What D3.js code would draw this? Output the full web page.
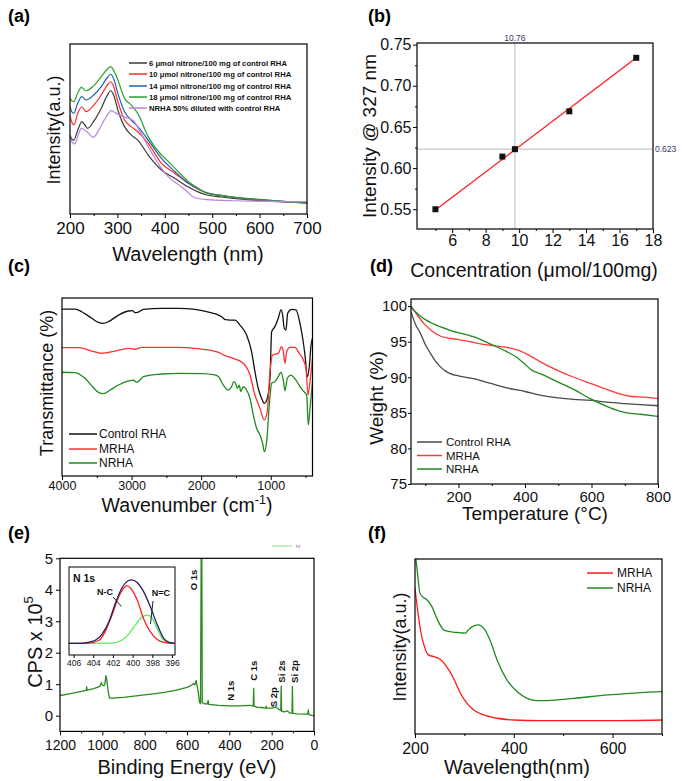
<!DOCTYPE html>
<html><head><meta charset="utf-8">
<script src="https://cdn.jsdelivr.net/npm/d3@7"></script>
<style>body{margin:0;background:#fff}svg{display:block}</style>
</head><body>
<svg id="c" width="682" height="781"></svg>
<script>
// ---------------- DATA ----------------
// (a) UV-vis spectra [wavelength nm, intensity a.u.]
const aSeriesNames = ["6 μmol nitrone/100 mg of control RHA","10 μmol nitrone/100 mg of control RHA","14 μmol nitrone/100 mg of control RHA","18 μmol nitrone/100 mg of control RHA","NRHA 50% diluted with control RHA"];
const a6 = [[200,46.5],[204,44],[208,43.5],[216,49],[225,54.3],[231,52.5],[237,50.4],[250,54.5],[266,62.2],[278,69.5],[286,72.5],[292,70],[301,61.2],[315,51.4],[329,46.5],[343,43.5],[365,34.7],[393,25.9],[421,21],[449,16],[470,13],[489,11.2],[520,10],[545,9.2],[615,7.6],[700,6.9]];
const a10 = [[200,57.3],[204,54],[208,52.4],[216,59],[225,63.1],[234,60.2],[250,64],[266,70],[278,75.5],[286,77.8],[292,75],[301,66.1],[315,55.3],[329,51.4],[343,48.4],[365,41.6],[393,29.8],[421,24],[449,18.2],[470,14.6],[489,12.3],[520,10.8],[545,9.8],[615,8],[700,6.5]];
const a14 = [[200,63.1],[204,60],[208,59.2],[216,65],[225,69],[234,67.1],[250,70],[266,74.9],[278,80],[286,82.2],[292,79.5],[301,71],[315,60.2],[329,55.3],[343,51.4],[365,43.5],[393,32.7],[421,25],[449,18.2],[470,14.9],[489,12.5],[520,11],[545,10],[615,8.2],[700,6.5]];
const a18 = [[200,68.6],[204,66.5],[208,66.1],[216,71],[224,74.5],[234,72.5],[250,75.5],[266,80.8],[278,85],[286,86.7],[292,84.5],[301,78.8],[315,68],[329,64.2],[343,59.2],[365,45.5],[393,34.7],[404,31.8],[421,27],[449,19.2],[470,15.2],[489,12.2],[520,10.8],[545,9.8],[615,8.2],[700,6.3]];
const aDil = [[200,45.5],[205,42],[210,41.2],[218,47],[224,50.4],[236,48.4],[249,45.1],[262,50],[274,56],[287,60.8],[296,59.5],[305,58.2],[315,57],[325,56.2],[334,54.9],[348,48.4],[369,37.6],[390,28],[407,22],[430,17],[446,13.5],[460,10],[489,8.4],[545,7.8],[700,7.2]];
const aXTicks = [200,300,400,500,600,700];

// (b) calibration
const bConc = [5, 9, 9.75, 13, 17];
const bIntensity = [0.550, 0.614, 0.623, 0.669, 0.734];
const bFitX = [5, 17];
const bFitY = [0.549, 0.734];
const bCross = {x: 9.75, y: 0.623, xLabel: "10.76", yLabel: "0.623"};
const bXTicks = [6,8,10,12,14,16,18];
const bYTicks = [0.55,0.60,0.65,0.70,0.75];

// (c) FTIR [wavenumber, transmittance]
const cNames = ["Control RHA","MRHA","NRHA"];
const cControl = [[4000,93.8],[3813,93.8],[3717,92.3],[3573,88.6],[3476,86.3],[3404,85.8],[3332,86.7],[3188,90.4],[3045,92.7],[2987,92.9],[2950,91.8],[2925,91.8],[2829,93.6],[2565,94.2],[2325,94.2],[2086,93.6],[1893,92],[1750,90.4],[1700,89.3],[1650,87.8],[1587,87.6],[1515,87.6],[1443,84.8],[1347,79.2],[1275,69.8],[1227,58.6],[1180,49.3],[1131,43.6],[1093,40.8],[1050,43.6],[1011,54.9],[987,81],[940,83.9],[892,88.6],[853,93.3],[829,90.4],[806,83],[781,82],[757,91.4],[699,93.6],[637,93.3],[590,87.6],[541,77.4],[508,68],[475,55.8],[446,61.4],[421,73.6],[400,77.4]];
const cMRHA = [[4000,72.1],[3760,72.1],[3573,70.2],[3428,68.9],[3236,70.2],[3045,71.7],[2950,71.2],[2853,72.3],[2325,72.3],[1989,71.3],[1750,69.5],[1680,68],[1539,66.1],[1395,63.3],[1299,56.7],[1227,45.5],[1155,38],[1093,31.5],[1050,36.1],[1011,58.6],[973,68],[892,68.9],[844,72.6],[820,69.8],[796,63.3],[772,69.8],[724,72.3],[652,72.3],[590,68.9],[532,65.2],[494,60.5],[465,45.5],[436,53],[400,66.1]];
const cNRHA = [[4000,58.3],[3813,58.1],[3669,54.9],[3549,49.6],[3476,47],[3404,46.3],[3308,48.3],[3188,51.1],[3045,53.4],[2973,53.9],[2925,52.6],[2829,55.8],[2565,57.3],[2325,57.7],[1989,57.5],[1822,56.9],[1750,55.8],[1683,51.1],[1611,48.3],[1563,50.2],[1530,53],[1505,52],[1482,49.3],[1453,51.1],[1430,47.4],[1395,50.2],[1347,48.3],[1299,43.6],[1251,34.3],[1203,26.8],[1155,23],[1117,18.4],[1093,13.7],[1059,19.3],[1021,39.9],[987,52.1],[940,53],[892,55.8],[853,58.3],[820,53.9],[796,47.8],[762,54.9],[714,56.7],[637,53.9],[580,50.2],[523,47.4],[484,45.5],[460,28.7],[436,38],[400,53]];
const cXTicks = [4000,3000,2000,1000];

// (d) TGA [temperature °C, weight %]
const dNames = ["Control RHA","MRHA","NRHA"];
const dControl = [[57,99.2],[70,97.5],[85,96.2],[100,94.6],[115,93.4],[130,92.3],[145,91.5],[160,90.9],[175,90.5],[200,90.2],[245,89.8],[300,89.1],[345,88.5],[400,88],[445,87.5],[500,87.1],[546,86.9],[600,86.75],[646,86.5],[700,86.3],[747,86.15],[800,86.0]];
const dMRHA = [[57,100],[75,98.8],[95,97.6],[120,96.5],[145,95.8],[170,95.5],[200,95.3],[245,94.9],[295,94.5],[345,94.2],[385,93.7],[415,93],[445,92.2],[496,91],[546,90],[606,89],[646,88.3],[690,87.6],[720,87.3],[760,87.2],[800,87.0]];
const dNRHA = [[57,99.8],[80,98.8],[100,98.1],[125,97.5],[175,96.6],[245,95.7],[295,94.7],[345,93.6],[375,92.8],[396,92],[420,91],[446,90.5],[496,89.4],[546,88.3],[596,87],[646,85.9],[680,85.3],[706,85.0],[747,84.8],[800,84.5]];
const dXTicks = [200,400,600,800];
const dYTicks = [75,80,85,90,95,100];

// (e) XPS survey [binding energy eV, CPS x 1e5]
const eSurvey = [[1200,0.64],[1150,0.70],[1100,0.77],[1076,0.80],[1074,0.92],[1072,0.81],[1040,0.86],[1012,0.93],[1005,1.05],[1000,0.97],[993,0.95],[988,1.0],[983,1.27],[979,1.15],[972,0.75],[966,0.56],[950,0.56],[900,0.58],[850,0.62],[800,0.66],[750,0.70],[700,0.75],[650,0.81],[600,0.90],[580,0.96],[568,1.02],[563,0.98],[557,1.12],[552,0.95],[546,0.72],[541,0.42],[536,0.38],[533,5.3],[530,5.3],[528,0.42],[520,0.38],[505,0.37],[500,0.48],[497,0.36],[450,0.33],[400,0.31],[350,0.31],[300,0.33],[290,0.30],[287,0.33],[285,0.87],[283,0.30],[270,0.27],[250,0.26],[228,0.24],[226,0.30],[224,0.24],[200,0.24],[180,0.27],[170,0.22],[160,0.17],[157,0.17],[155,0.94],[153,0.14],[140,0.12],[125,0.15],[115,0.08],[104,0.08],[102,0.93],[100,0.07],[80,0.06],[40,0.05],[30,0.05],[27,0.18],[24,0.03],[10,0.01],[0,0.0]];
const ePeakNames = ["O 1s","N 1s","C 1s","S 2p","Si 2s","Si 2p"];
const ePeakBE = [570, 394, 287, 189, 153, 90];
const ePeakV = [4.31, 0.79, 1.43, 0.59, 1.40, 1.40];
const eXTicks = [1200,1000,800,600,400,200,0];
const eYTicks = [0,1,2,3,4,5];
// (e) inset N 1s [binding energy, normalized]
const nEnvelope = [[406.5,0],[405.5,0],[404.8,0.01],[403.8,0.05],[403.1,0.146],[402.4,0.34],[401.75,0.625],[401.1,0.86],[400.4,0.98],[400.06,0.99],[399.55,0.95],[398.9,0.81],[398.2,0.57],[397.5,0.29],[396.85,0.08],[396.3,0.016],[395.7,0]];
const nNC = [[406.5,0],[404.5,0.005],[403.4,0.05],[402.8,0.18],[402.1,0.44],[401.4,0.73],[400.9,0.86],[400.6,0.9],[400.2,0.86],[399.55,0.68],[398.9,0.39],[398.2,0.18],[397.5,0.06],[396.85,0.016],[396.3,0.005],[395.7,0]];
const nNdC = [[406.5,0],[402.1,0.005],[401.1,0.05],[400.4,0.146],[399.7,0.29],[399.05,0.41],[398.5,0.44],[398.0,0.39],[397.5,0.23],[397.0,0.08],[396.5,0.016],[395.7,0]];
const nXTicks = [406,404,402,400,398,396];

// (f) UV-vis [wavelength nm, intensity]
const fNames = ["MRHA","NRHA"];
const fMRHA = [[200,83.4],[207,67.2],[212,58],[217,51.9],[227,45.2],[237,44.3],[251,42.7],[264,38.5],[278,31.9],[292,23.3],[305,17.6],[319,13.7],[339,10.9],[366,9],[400,8],[454,7.6],[590,7.6],[700,8]];
const fNRHA = [[201,102],[205,92],[210,80.5],[217,78],[224,76.7],[234,72.9],[244,66.2],[258,59.5],[268,58.6],[285,58],[302,57.6],[308,59.5],[319,61.8],[329,62.4],[339,60.5],[353,52.9],[366,42.4],[386,30.9],[407,24.2],[427,20.4],[447,19.1],[468,19.1],[522,20.4],[590,22.3],[658,23.7],[700,24.2]];
const fXTicks = [200,400,600];

// ---------------- DRAW ----------------
const FONT = "'Liberation Sans', Arial, Helvetica, sans-serif";
const svg = d3.select("#c");
svg.append("rect").attr("width",682).attr("height",781).attr("fill","#fff");

function setup(o) {
  const g = svg.append("g");
  const x = d3.scaleLinear().domain(o.xd).range(o.xr);
  const y = d3.scaleLinear().domain(o.yd).range(o.yr);
  const id = "clip" + o.name;
  svg.append("clipPath").attr("id", id).append("rect")
    .attr("x", o.xr[0]).attr("y", o.yr[1]).attr("width", o.xr[1]-o.xr[0]).attr("height", o.yr[0]-o.yr[1]);
  const gx = g.append("g").attr("transform", `translate(0,${o.yr[0]})`)
    .call(d3.axisBottom(x).tickValues(o.xt).tickFormat(o.xf || d3.format("d")).tickSize(4).tickSizeOuter(0).tickPadding(o.xp));
  gx.select(".domain").remove();
  gx.selectAll("text").attr("font-size", o.xfs).attr("font-family", FONT).attr("fill", "#111");
  gx.selectAll("line").attr("stroke", "#000");
  if (o.xm) {
    const gm = g.append("g").attr("transform", `translate(0,${o.yr[0]})`)
      .call(d3.axisBottom(x).tickValues(o.xm).tickFormat("").tickSize(2).tickSizeOuter(0));
    gm.select(".domain").remove();
  }
  if (o.yt) {
    const gy = g.append("g").attr("transform", `translate(${o.xr[0]},0)`)
      .call(d3.axisLeft(y).tickValues(o.yt).tickFormat(o.yf || d3.format("d")).tickSize(o.yts || 4).tickSizeOuter(0).tickPadding(o.yp));
    gy.select(".domain").remove();
    gy.selectAll("text").attr("font-size", o.yfs).attr("font-family", FONT).attr("fill", "#111");
    if (o.ym) {
      const gm = g.append("g").attr("transform", `translate(${o.xr[0]},0)`)
        .call(d3.axisLeft(y).tickValues(o.ym).tickFormat("").tickSize(2).tickSizeOuter(0));
      gm.select(".domain").remove();
    }
  }
  g.append("rect").attr("x", o.xr[0]).attr("y", o.yr[1]).attr("width", o.xr[1]-o.xr[0]).attr("height", o.yr[0]-o.yr[1])
    .attr("fill", "none").attr("stroke", "#000").attr("stroke-width", 1.2);
  const plot = g.insert("g", "rect:last-of-type").attr("clip-path", `url(#${id})`);
  return {g, x, y, plot};
}
function curve(p, data, color, w, lin) {
  const line = d3.line().x(d => p.x(d[0])).y(d => p.y(d[1])).curve(lin ? d3.curveLinear : d3.curveMonotoneX);
  p.plot.append("path").datum(data).attr("d", line).attr("fill", "none").attr("stroke", color)
    .attr("stroke-width", w || 1.3).attr("stroke-linejoin", "round");
}
function text(g, s, x, y, size, opt) {
  opt = opt || {};
  const t = g.append("text").attr("x", x).attr("y", y).attr("font-size", size).attr("font-family", FONT)
    .attr("fill", opt.fill || "#111").attr("text-anchor", opt.anchor || "start");
  if (opt.bold) t.attr("font-weight", "bold");
  if (opt.rot) t.attr("transform", `rotate(${opt.rot},${x},${y})`);
  if (opt.dom) t.attr("dominant-baseline", opt.dom);
  t.text(s);
  return t;
}
function legend(g, names, colors, x0, x1, tx, ys, size, bold) {
  names.forEach((n, i) => {
    g.append("line").attr("x1", x0).attr("x2", x1).attr("y1", ys[i]).attr("y2", ys[i]).attr("stroke", colors[i]).attr("stroke-width", 1.5);
    text(g, n, tx, ys[i], size, {bold, dom: "central"});
  });
}

// panel labels
[["(a)",8,22],["(b)",368,22],["(c)",8,272],["(d)",370,272],["(e)",8,539],["(f)",368,539]].forEach(l =>
  text(svg, l[0], l[1], l[2], 18, {bold: true, fill: "#000"}));

// ---- (a)
{
  const p = setup({name:"a", xd:[200,700], xr:[70,307], yd:[0,100], yr:[214,44],
    xt:aXTicks, xm:[250,350,450,550,650], xp:4, xfs:17});
  const cols = ["#3a3a3a","#ff2a2a","#1f5fb5","#2ea02e","#b785dc"];
  [a6,a10,a14,a18,aDil].forEach((d,i) => curve(p, d, cols[i], 1.2));
  legend(p.g, aSeriesNames, cols, 129, 147, 149, [63,74,86,97,108], 7.7, true);
  text(svg, "Wavelength (nm)", 188, 261, 20, {anchor:"middle"});
  text(svg, "Intensity(a.u.)", 60, 130, 18, {anchor:"middle", rot:-90});
}
// ---- (b)
{
  const p = setup({name:"b", xd:[3.9,18], xr:[417,653], yd:[0.526,0.752], yr:[229,43],
    xt:bXTicks, xm:[5,7,9,11,13,15,17], xp:2, xfs:16,
    yt:bYTicks, ym:[0.575,0.625,0.675,0.725], yf:d3.format(".2f"), yp:1.5, yfs:16});
  p.plot.append("line").attr("x1", p.x(bCross.x)).attr("x2", p.x(bCross.x)).attr("y1", p.y.range()[1]).attr("y2", p.y.range()[0]).attr("stroke", "#b8b8c0").attr("stroke-width", 1);
  p.plot.append("line").attr("x1", p.x.range()[0]).attr("x2", p.x.range()[1]).attr("y1", p.y(bCross.y)).attr("y2", p.y(bCross.y)).attr("stroke", "#b8b8c0").attr("stroke-width", 1);
  p.plot.append("line").attr("x1", p.x(bFitX[0])).attr("x2", p.x(bFitX[1])).attr("y1", p.y(bFitY[0])).attr("y2", p.y(bFitY[1])).attr("stroke", "#ff1a1a").attr("stroke-width", 1.3);
  p.plot.selectAll("rect.pt").data(bConc).join("rect").attr("class","pt")
    .attr("x", (d) => p.x(d) - 3).attr("y", (d,i) => p.y(bIntensity[i]) - 3).attr("width", 6).attr("height", 6).attr("fill", "#111");
  text(svg, bCross.xLabel, p.x(bCross.x), 41, 8.5, {anchor:"middle", fill:"#33356b"});
  text(svg, bCross.yLabel, 655, p.y(bCross.y) + 3, 8.5, {fill:"#33356b"});
  text(svg, "Concentration (μmol/100mg)", 534, 277, 19.5, {anchor:"middle"});
  text(svg, "Intensity @ 327 nm", 376, 136, 19, {anchor:"middle", rot:-90});
}
// ---- (c)
{
  const p = setup({name:"c", xd:[4000,400], xr:[62,312.5], yd:[0,100], yr:[476,298],
    xt:cXTicks, xm:[3500,2500,1500,500], xp:1.5, xfs:12.5});
  const cols = ["#111","#ff3030","#1e8a1e"];
  [cControl,cMRHA,cNRHA].forEach((d,i) => curve(p, d, cols[i], 1.3));
  legend(p.g, cNames, cols, 69, 97, 99, [434,449,463], 12, false);
  const t = text(svg, "Wavenumber (cm", 187, 512, 19.5, {anchor:"middle"});
  t.append("tspan").attr("dy", -8).attr("font-size", 12.5).text("-1");
  t.append("tspan").attr("dy", 8).text(")");
  text(svg, "Transmittance (%)", 53, 383, 18, {anchor:"middle", rot:-90});
}
// ---- (d)
{
  const p = setup({name:"d", xd:[57,800], xr:[411,658], yd:[75,101], yr:[484,299],
    xt:dXTicks, xm:[100,300,500,700], xp:3, xfs:15,
    yt:dYTicks, yp:1, yts:3, yfs:15});
  const cols = ["#4a4a4a","#ff3838","#1e8a1e"];
  [dControl,dMRHA,dNRHA].forEach((d,i) => curve(p, d, cols[i], 1.3));
  legend(p.g, dNames, cols, 417, 442, 446, [442,455.5,469], 11.5, false);
  text(svg, "Temperature (°C)", 535, 520, 19, {anchor:"middle"});
  text(svg, "Weight (%)", 383, 398, 19, {anchor:"middle", rot:-90});
}
// ---- (e)
{
  const p = setup({name:"e", xd:[1200,0], xr:[60,314], yd:[-0.5,5], yr:[731.4,558.3],
    xt:eXTicks, xm:[1100,900,700,500,300,100], xp:4.5, xfs:14,
    yt:eYTicks, yp:3, yfs:15});
  curve(p, eSurvey, "#2a8a1e", 1.3, true);
  ePeakNames.forEach((n,i) => text(svg, n, p.x(ePeakBE[i]), p.y(ePeakV[i]), 9.5, {bold:true, anchor:"middle", dom:"central", rot:-90}));
  // partial legend remnant above the plot
  svg.append("line").attr("x1", 272).attr("x2", 292).attr("y1", 546).attr("y2", 546).attr("stroke", "#9be39b").attr("stroke-width", 1.2);
  text(svg, "c", 297, 546, 7, {fill:"#666", dom:"central", rot:-90, anchor:"middle"});
  // inset
  const ix = d3.scaleLinear().domain([406.46,395.7]).range([69,175]);
  const iy = d3.scaleLinear().domain([-0.18,1.19]).range([655,567]);
  const ig = svg.append("g");
  ig.append("rect").attr("x",69).attr("y",567).attr("width",106).attr("height",88).attr("fill","#fff").attr("stroke","#000").attr("stroke-width",1);
  const ia = ig.append("g").attr("transform","translate(0,655)").call(d3.axisBottom(ix).tickValues(nXTicks).tickFormat(d3.format("d")).tickSize(3).tickSizeOuter(0).tickPadding(2));
  ia.select(".domain").remove();
  ia.selectAll("text").attr("font-size", 8.5).attr("font-family", FONT).attr("fill","#111");
  const il = d3.line().x(d => ix(d[0])).y(d => iy(d[1])).curve(d3.curveMonotoneX);
  [[nNdC,"#5fe85f"],[nNC,"#ff2020"],[nEnvelope,"#20205e"]].forEach(s =>
    ig.append("path").datum(s[0]).attr("d", il).attr("fill","none").attr("stroke", s[1]).attr("stroke-width",1.3));
  text(ig, "N 1s", 73, 578, 10.5, {bold:true, dom:"central"});
  text(ig, "N-C", 105, 592, 9, {bold:true, anchor:"middle", dom:"central"});
  text(ig, "N=C", 161, 593, 9, {bold:true, anchor:"middle", dom:"central"});
  ig.append("line").attr("x1",113).attr("y1",597).attr("x2",121.5).attr("y2",606.5).attr("stroke","#222").attr("stroke-width",1);
  ig.append("line").attr("x1",153).attr("y1",601).attr("x2",150.5).attr("y2",624).attr("stroke","#222").attr("stroke-width",1);
  text(svg, "Binding Energy (eV)", 187, 774, 20, {anchor:"middle"});
  const yt = text(svg, "CPS x 10", 42, 642, 20, {anchor:"middle", rot:-90});
  yt.append("tspan").attr("dy", -9).attr("font-size", 13).text("5");
}
// ---- (f)
{
  const p = setup({name:"f", xd:[200,700], xr:[415,662], yd:[0,100], yr:[734,559],
    xt:fXTicks, xm:[300,500,700], xp:4.4, xfs:16});
  const cols = ["#ff1a1a","#1e8a1e"];
  curve(p, fMRHA, cols[0], 1.3);
  curve(p, fNRHA, cols[1], 1.3);
  legend(p.g, fNames, cols, 587, 613, 617, [573,588], 12, false);
  text(svg, "Wavelength(nm)", 517, 774, 20, {anchor:"middle"});
  text(svg, "Intensity(a.u.)", 406, 647, 18, {anchor:"middle", rot:-90});
}
</script>
</body></html>
